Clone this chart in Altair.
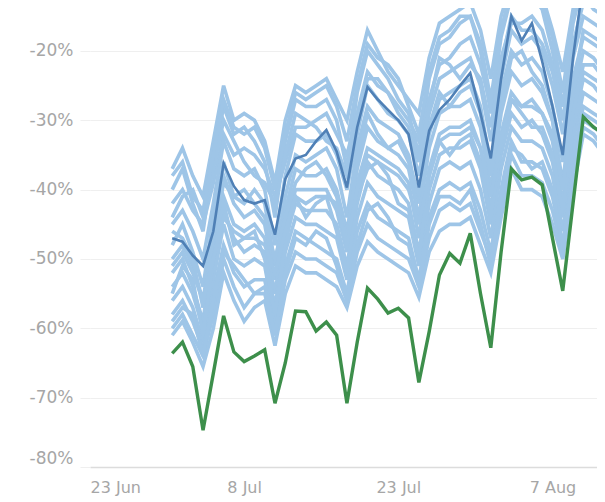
import altair as alt
import pandas as pd

# Daily values, 1 Jul 2021 .. 12 Aug 2021 (43 days)
dates = pd.date_range("2021-07-01", periods=43, freq="D").strftime("%Y-%m-%dT00:00:00").tolist()

green = [-63.6, -62, -65.5, -74.7, -66.5, -58.2, -63.4, -64.8, -64, -63.1,
         -70.8, -65, -57.5, -57.6, -60.4, -59.1, -61, -70.8, -62, -54.2,
         -55.8, -57.8, -57.1, -58.5, -67.8, -60.5, -52.3, -49.2, -50.6, -46.3,
         -55, -62.8, -49, -37, -38.6, -38.2, -39.3, -47, -54.6, -42,
         -29.5, -31, -32]

dark = [-47, -47.5, -49.5, -51, -46, -36.2, -39.5, -41.5, -42, -41.5,
        -46.5, -38.5, -35.5, -35, -33, -31.4, -34.5, -39.7, -31, -25.2,
        -27, -28.5, -30, -32, -39.7, -31.5, -28.5, -27, -25, -23.2,
        -29, -35.5, -24, -15, -18.5, -16, -21.5, -28, -35, -21,
        -10, -10, -12]

light = {
    "L1": [-37, -34, -38, -41, -33, -25, -30, -29, -30, -33, -39, -30, -25, -26, -25, -24, -27, -30, -23, -17, -20, -23, -25, -27, -29, -21, -16, -15, -14, -13, -17, -24, -15, -10, -11, -10, -12, -17, -23, -14, -8, -8, -9],
    "L2": [-40, -37, -42, -46, -36, -28, -32, -31, -33, -36, -44, -33, -27, -28, -28, -27, -30, -37, -26, -20, -22, -24, -27, -29, -35, -24, -19, -18, -16, -15, -20, -29, -18, -12, -13, -12, -14, -20, -28, -16, -10, -10, -11],
    "L3": [-42, -40, -43, -45, -39, -32, -35, -34, -35, -37, -41, -36, -31, -31, -30, -29, -32, -35, -29, -23, -25, -26, -28, -30, -33, -27, -22, -21, -19, -18, -22, -28, -21, -16, -16, -15, -17, -22, -28, -19, -13, -13, -14],
    "L4": [-45, -43, -46, -50, -42, -33, -37, -38, -37, -40, -48, -38, -32, -33, -33, -32, -35, -40, -32, -25, -27, -29, -30, -32, -38, -29, -24, -23, -22, -21, -25, -33, -24, -17, -19, -18, -20, -25, -32, -21, -15, -16, -17],
    "L5": [-48, -45, -49, -54, -44, -36, -41, -42, -40, -42, -51, -41, -35, -36, -35, -34, -37, -44, -34, -28, -30, -31, -32, -35, -42, -32, -27, -26, -25, -24, -28, -37, -26, -20, -22, -21, -23, -28, -36, -24, -18, -19, -20],
    "L6": [-50, -48, -51, -56, -46, -38, -42, -44, -43, -45, -53, -43, -37, -38, -38, -37, -40, -46, -37, -31, -33, -34, -35, -37, -44, -34, -29, -28, -28, -27, -31, -40, -29, -23, -25, -24, -26, -30, -39, -27, -20, -21, -23],
    "L7": [-52, -50, -54, -59, -48, -41, -45, -46, -45, -47, -55, -45, -40, -40, -40, -40, -43, -49, -39, -34, -35, -36, -37, -39, -47, -37, -32, -31, -31, -30, -34, -43, -32, -26, -28, -27, -29, -33, -42, -30, -23, -24, -25],
    "L8": [-54, -52, -55, -60, -51, -43, -47, -49, -48, -49, -57, -47, -42, -43, -43, -43, -45, -51, -42, -36, -38, -39, -40, -42, -49, -40, -35, -34, -34, -33, -37, -45, -35, -29, -31, -30, -32, -36, -44, -33, -26, -27, -28],
    "L9": [-56, -54, -57, -62, -53, -45, -50, -51, -50, -51, -59, -49, -44, -45, -45, -46, -47, -53, -44, -39, -41, -42, -43, -44, -51, -42, -37, -36, -37, -36, -40, -47, -37, -31, -33, -33, -34, -38, -46, -35, -28, -29, -30],
    "L10": [-58, -56, -59, -63, -55, -48, -52, -54, -53, -53, -60, -51, -46, -47, -48, -49, -50, -55, -46, -42, -44, -45, -46, -47, -53, -44, -40, -39, -40, -39, -43, -49, -40, -33, -36, -36, -37, -41, -48, -37, -30, -31, -32],
    "L11": [-60, -58, -61, -64, -58, -50, -54, -57, -55, -55, -61, -53, -49, -50, -50, -51, -52, -56, -49, -45, -47, -48, -49, -50, -54, -47, -43, -42, -43, -42, -46, -50, -42, -35, -38, -38, -39, -43, -49, -39, -31, -32, -34],
    "L12": [-61, -59, -62, -65.5, -60, -52, -56, -59, -57, -56, -62.5, -55, -51, -52, -52, -53, -54, -57, -51, -47.5, -49, -50, -51, -52, -55.5, -49, -46, -45, -45, -44, -48, -52, -44, -37, -40, -40, -41, -45, -50, -40, -32, -33, -35],
    "L13": [-44, -41, -40, -44, -37, -30, -33, -36, -38, -39, -42, -35, -29, -30, -31, -33, -34, -38, -30, -24, -24, -26, -29, -31, -36, -28, -21, -22, -24, -22, -24, -31, -22, -15, -17, -17, -19, -23, -30, -20, -12, -14, -15],
    "L14": [-46, -47, -50, -57, -47, -39, -41, -40, -42, -44, -50, -44, -39, -37, -36, -38, -41, -47, -36, -29, -32, -34, -33, -36, -41, -31, -26, -28, -26, -25, -29, -38, -28, -21, -20, -23, -25, -30, -40, -26, -17, -18, -19],
    "L15": [-55, -51, -53, -61, -50, -42, -48, -47, -46, -50, -58, -48, -41, -44, -42, -41, -46, -52, -41, -37, -36, -38, -42, -43, -50, -38, -33, -35, -33, -32, -36, -44, -34, -27, -29, -31, -31, -35, -43, -31, -24, -25, -27],
    "L16": [-59, -57, -58, -64, -56, -49, -51, -53, -55, -54, -61, -52, -47, -48, -46, -47, -51, -56, -48, -43, -42, -44, -47, -48, -54, -45, -41, -41, -42, -40, -45, -51, -41, -34, -35, -37, -36, -40, -48, -38, -29, -30, -31],
    "L17": [-38, -36, -41, -43, -35, -27, -31, -32, -31, -34, -40, -32, -26, -27, -26, -25, -28, -33, -25, -19, -21, -22, -24, -28, -32, -23, -18, -17, -15, -15, -19, -27, -17, -11, -12, -12, -13, -18, -26, -15, -9, -9, -10],
    "L18": [-51, -49, -52, -56, -50, -44, -46, -47, -47, -48, -52, -46, -41, -42, -41, -41, -42, -48, -40, -35, -36, -37, -38, -40, -45, -38, -33, -32, -32, -31, -34, -41, -33, -27, -28, -28, -29, -32, -40, -29, -22, -22, -24],
}

y_ticks = [-20, -30, -40, -50, -60, -70, -80]

light_rows = []
for name, vals in light.items():
    for d, v in zip(dates, vals):
        light_rows.append({"date": d, "value": v, "series": name})
light_df = pd.DataFrame(light_rows)
dark_df = pd.DataFrame({"date": dates, "value": dark})
green_df = pd.DataFrame({"date": dates, "value": green})

FONT = "DejaVu Sans"
LABEL_COLOR = "#a6a6a6"

x_enc = alt.X(
    "date:T",
    scale=alt.Scale(domain=[alt.DateTime(year=2021, month=6, date=23),
                            alt.DateTime(year=2021, month=8, date=11, hours=8)]),
    axis=alt.Axis(
        title=None,
        values=[alt.DateTime(year=2021, month=6, date=23),
                alt.DateTime(year=2021, month=7, date=8),
                alt.DateTime(year=2021, month=7, date=23),
                alt.DateTime(year=2021, month=8, date=7)],
        format="%-d %b",
        labelFlush=True,
        grid=False,
        ticks=False,
        domain=True,
        domainColor="#dcdcdc",
        domainWidth=1.5,
        labelColor=LABEL_COLOR,
        labelFont=FONT,
        labelFontSize=16,
        labelPadding=12,
    ),
)

y_enc = alt.Y(
    "value:Q",
    scale=alt.Scale(domain=[-80, -13.8], nice=False, zero=False),
    axis=alt.Axis(
        title=None,
        values=y_ticks,
        labelExpr="datum.value + '%'",
        labelFlush=True,
        grid=True,
        gridColor="#efefef",
        gridWidth=1,
        domain=False,
        ticks=True,
        tickColor="#efefef",
        tickSize=10,
        labelPadding=7,
        labelColor=LABEL_COLOR,
        labelFont=FONT,
        labelFontSize=17,
    ),
)

light_layer = alt.Chart(light_df).mark_line(
    color="#9ec5e7", strokeWidth=3.6, clip=True
).encode(x=x_enc, y=y_enc, detail="series:N")

dark_layer = alt.Chart(dark_df).mark_line(
    color="#4f80b6", strokeWidth=2.6, clip=True
).encode(x=x_enc, y=y_enc)

green_layer = alt.Chart(green_df).mark_line(
    color="#3d8f4b", strokeWidth=3.4, clip=True
).encode(x=x_enc, y=y_enc)

chart = alt.layer(light_layer, dark_layer, green_layer).properties(
    width=507,
    height=459,
    padding={"left": 82, "top": 0, "right": 0, "bottom": 32},
    autosize="none",
).configure_view(stroke=None)

chart.save("out.html", embed_options={"renderer": "svg", "actions": False})
